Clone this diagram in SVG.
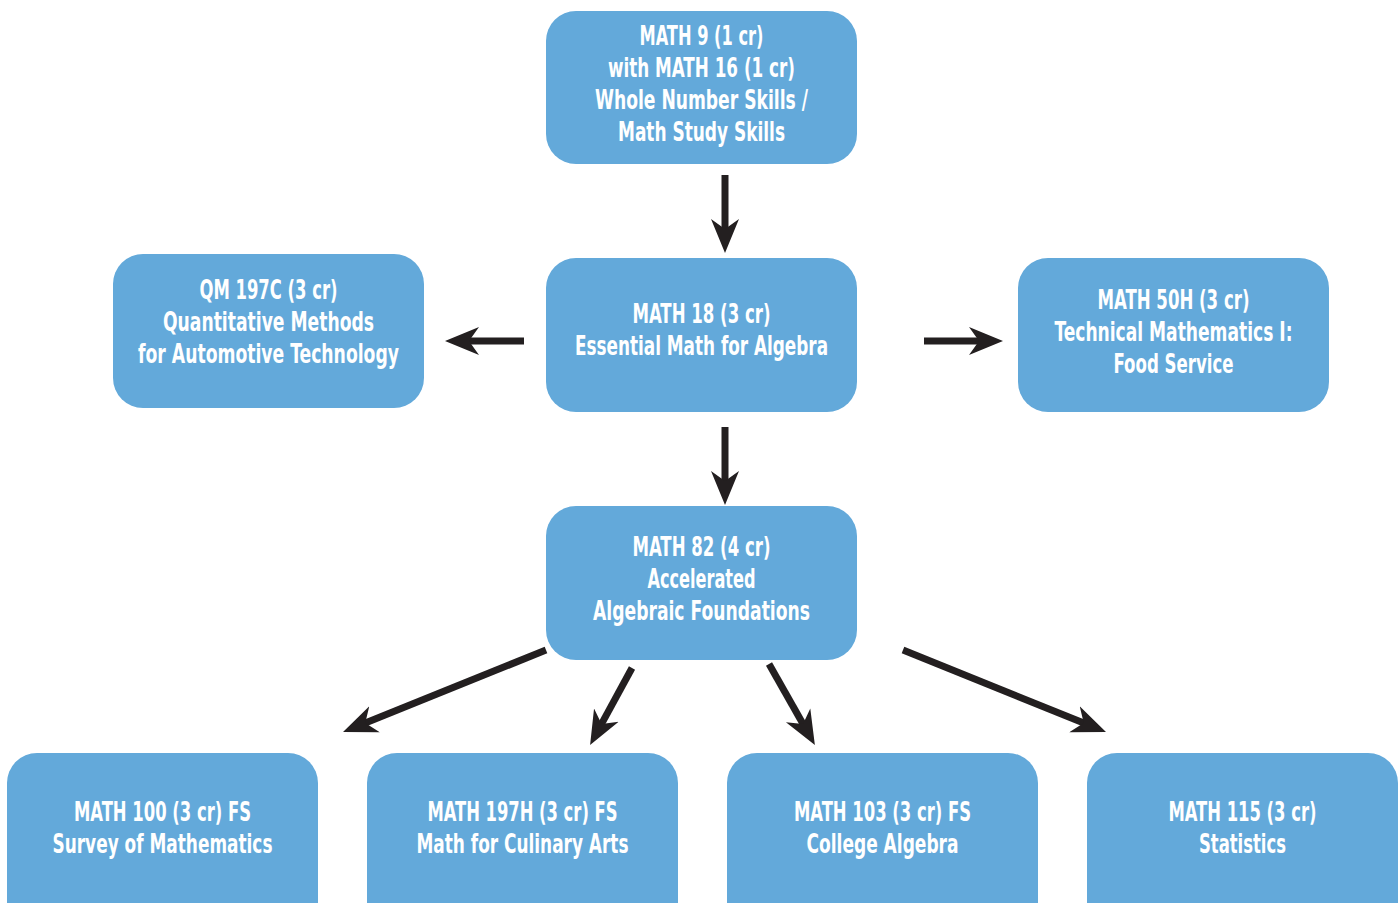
<svg xmlns="http://www.w3.org/2000/svg" width="1400" height="903" viewBox="0 0 1400 903">
<defs>
<style>
.box{fill:#63a9da;}
.t{fill:#ffffff;font-family:"DejaVu Sans Condensed","Liberation Sans Narrow","Liberation Sans",sans-serif;font-weight:bold;font-size:26px;text-anchor:middle;}
.c{stroke:#231f20;stroke-width:7;fill:none;}
</style>
<marker id="ah" viewBox="-34 -16 36 32" refX="-18" refY="0" markerWidth="36" markerHeight="32" markerUnits="userSpaceOnUse" orient="auto">
<path d="M0,0 L-34,-14 L-24,0 L-34,14 Z" fill="#231f20"/>
</marker>
</defs>
<rect width="1400" height="903" fill="#ffffff"/>
<g id="connectors">
<line class="c" x1="725" y1="175" x2="725" y2="235" marker-end="url(#ah)"/>
<line class="c" x1="524" y1="341" x2="463" y2="341" marker-end="url(#ah)"/>
<line class="c" x1="924" y1="341" x2="985" y2="341" marker-end="url(#ah)"/>
<line class="c" x1="725" y1="427" x2="725" y2="487" marker-end="url(#ah)"/>
<line class="c" x1="546" y1="650" x2="359.7" y2="725.3" marker-end="url(#ah)"/>
<line class="c" x1="632" y1="668" x2="598.7" y2="729.2" marker-end="url(#ah)"/>
<line class="c" x1="769" y1="664" x2="806" y2="729.3" marker-end="url(#ah)"/>
<line class="c" x1="903" y1="650" x2="1089.3" y2="725.3" marker-end="url(#ah)"/>
</g>
<g id="math9">
<rect class="box" x="546" y="11" width="311" height="153" rx="30"/>
<text class="t" x="701.5" y="45" textLength="124" lengthAdjust="spacingAndGlyphs">MATH 9 (1 cr)</text>
<text class="t" x="701.5" y="77" textLength="187" lengthAdjust="spacingAndGlyphs">with MATH 16 (1 cr)</text>
<text class="t" x="701.5" y="109" textLength="213" lengthAdjust="spacingAndGlyphs">Whole Number Skills /</text>
<text class="t" x="701.5" y="141" textLength="167" lengthAdjust="spacingAndGlyphs">Math Study Skills</text>
</g>
<g id="qm197c">
<rect class="box" x="113" y="254" width="311" height="154" rx="30"/>
<text class="t" x="268.5" y="299" textLength="138" lengthAdjust="spacingAndGlyphs">QM 197C (3 cr)</text>
<text class="t" x="268.5" y="331" textLength="211" lengthAdjust="spacingAndGlyphs">Quantitative Methods</text>
<text class="t" x="268.5" y="363" textLength="261" lengthAdjust="spacingAndGlyphs">for Automotive Technology</text>
</g>
<g id="math18">
<rect class="box" x="546" y="258" width="311" height="154" rx="30"/>
<text class="t" x="701.5" y="323" textLength="138" lengthAdjust="spacingAndGlyphs">MATH 18 (3 cr)</text>
<text class="t" x="701.5" y="355" textLength="253" lengthAdjust="spacingAndGlyphs">Essential Math for Algebra</text>
</g>
<g id="math50h">
<rect class="box" x="1018" y="258" width="311" height="154" rx="30"/>
<text class="t" x="1173.5" y="309" textLength="152" lengthAdjust="spacingAndGlyphs">MATH 50H (3 cr)</text>
<text class="t" x="1173.5" y="341" textLength="238" lengthAdjust="spacingAndGlyphs">Technical Mathematics I:</text>
<text class="t" x="1173.5" y="373" textLength="120" lengthAdjust="spacingAndGlyphs">Food Service</text>
</g>
<g id="math82">
<rect class="box" x="546" y="506" width="311" height="154" rx="30"/>
<text class="t" x="701.5" y="556" textLength="138" lengthAdjust="spacingAndGlyphs">MATH 82 (4 cr)</text>
<text class="t" x="701.5" y="588" textLength="108" lengthAdjust="spacingAndGlyphs">Accelerated</text>
<text class="t" x="701.5" y="620" textLength="217" lengthAdjust="spacingAndGlyphs">Algebraic Foundations</text>
</g>
<g id="math100">
<rect class="box" x="7" y="753" width="311" height="190" rx="30"/>
<text class="t" x="162.5" y="821" textLength="177" lengthAdjust="spacingAndGlyphs">MATH 100 (3 cr) FS</text>
<text class="t" x="162.5" y="853" textLength="220" lengthAdjust="spacingAndGlyphs">Survey of Mathematics</text>
</g>
<g id="math197h">
<rect class="box" x="367" y="753" width="311" height="190" rx="30"/>
<text class="t" x="522.5" y="821" textLength="190" lengthAdjust="spacingAndGlyphs">MATH 197H (3 cr) FS</text>
<text class="t" x="522.5" y="853" textLength="212" lengthAdjust="spacingAndGlyphs">Math for Culinary Arts</text>
</g>
<g id="math103">
<rect class="box" x="727" y="753" width="311" height="190" rx="30"/>
<text class="t" x="882.5" y="821" textLength="177" lengthAdjust="spacingAndGlyphs">MATH 103 (3 cr) FS</text>
<text class="t" x="882.5" y="853" textLength="152" lengthAdjust="spacingAndGlyphs">College Algebra</text>
</g>
<g id="math115">
<rect class="box" x="1087" y="753" width="311" height="190" rx="30"/>
<text class="t" x="1242.5" y="821" textLength="148" lengthAdjust="spacingAndGlyphs">MATH 115 (3 cr)</text>
<text class="t" x="1242.5" y="853" textLength="87" lengthAdjust="spacingAndGlyphs">Statistics</text>
</g>
</svg>
